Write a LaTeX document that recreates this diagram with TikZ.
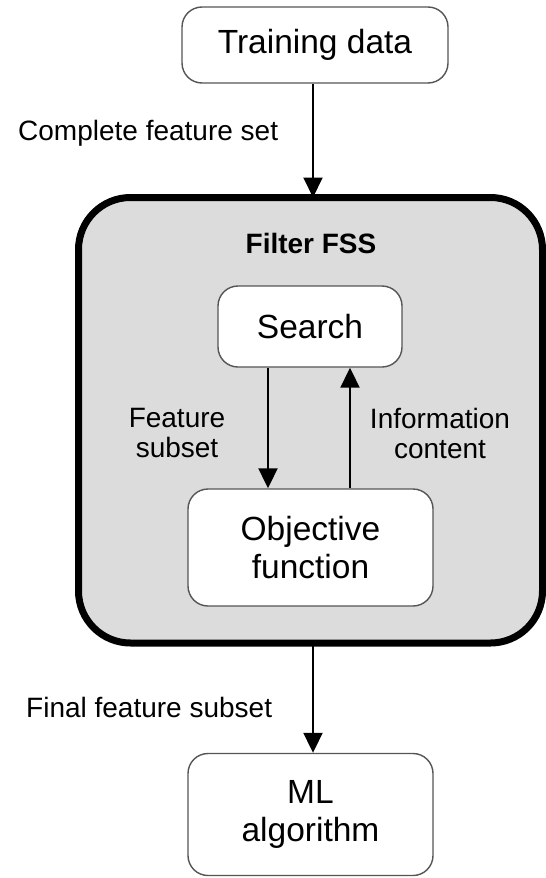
\documentclass[tikz,border=0pt]{standalone}
\usepackage{fontspec}
\setmainfont{Liberation Sans}
\usetikzlibrary{arrows.meta}
\definecolor{fssfill}{HTML}{DCDCDC}
\definecolor{boxline}{HTML}{555555}
\tikzset{
  smallbox/.style={draw=boxline, line width=1.4pt, fill=white, rounded corners=20pt,
    inner sep=0pt, align=center, font=\fontsize{33.5}{38}\selectfont},
  bigbox/.style={draw=black, line width=7pt, fill=fssfill, rounded corners=52pt, inner sep=0pt},
  lbl/.style={inner sep=0pt, align=center, font=\fontsize{28}{30}\selectfont},
  arr/.style={line width=2pt, -{Triangle[width=19pt,length=20pt]}},
}
\begin{document}
\begin{tikzpicture}[x=1pt,y=-1pt]
\useasboundingbox (0,0) rectangle (546,878);
\node[bigbox, minimum width=464pt, minimum height=445.5pt] (fss) at (310.5,420.25) {};
\node[lbl, font=\fontsize{28}{30}\selectfont\bfseries] (title) at (311,243) {Filter FSS};
\node[smallbox, minimum width=266pt, minimum height=76pt] (train) at (315,45) {Training data};
\node[smallbox, minimum width=184pt, minimum height=81pt] (search) at (310,326.5) {Search};
\node[smallbox, minimum width=245pt, minimum height=117pt] (obj) at (310.5,547.5) {Objective\\function};
\node[smallbox, minimum width=245pt, minimum height=122pt] (ml) at (310.5,814.5) {ML\\algorithm};
\node[lbl, anchor=west] (cfs) at (18,133) {Complete feature set};
\node[lbl] (fsub) at (177,433) {Feature\\subset};
\node[lbl] (info) at (440,433) {Information\\content};
\node[lbl, anchor=west] (ffs) at (26,707) {Final feature subset};
\coordinate (topx) at (313,0);
\coordinate (dx) at (268,0);
\coordinate (ux) at (350,0);
\draw[arr] (train.south -| topx) -- ([yshift=-3.5pt]fss.north -| topx);
\draw[arr] (search.south -| dx) -- (obj.north -| dx);
\draw[arr] (obj.north -| ux) -- (search.south -| ux);
\draw[arr] ([yshift=3.5pt]fss.south -| topx) -- (ml.north -| topx);
\end{tikzpicture}
\end{document}
